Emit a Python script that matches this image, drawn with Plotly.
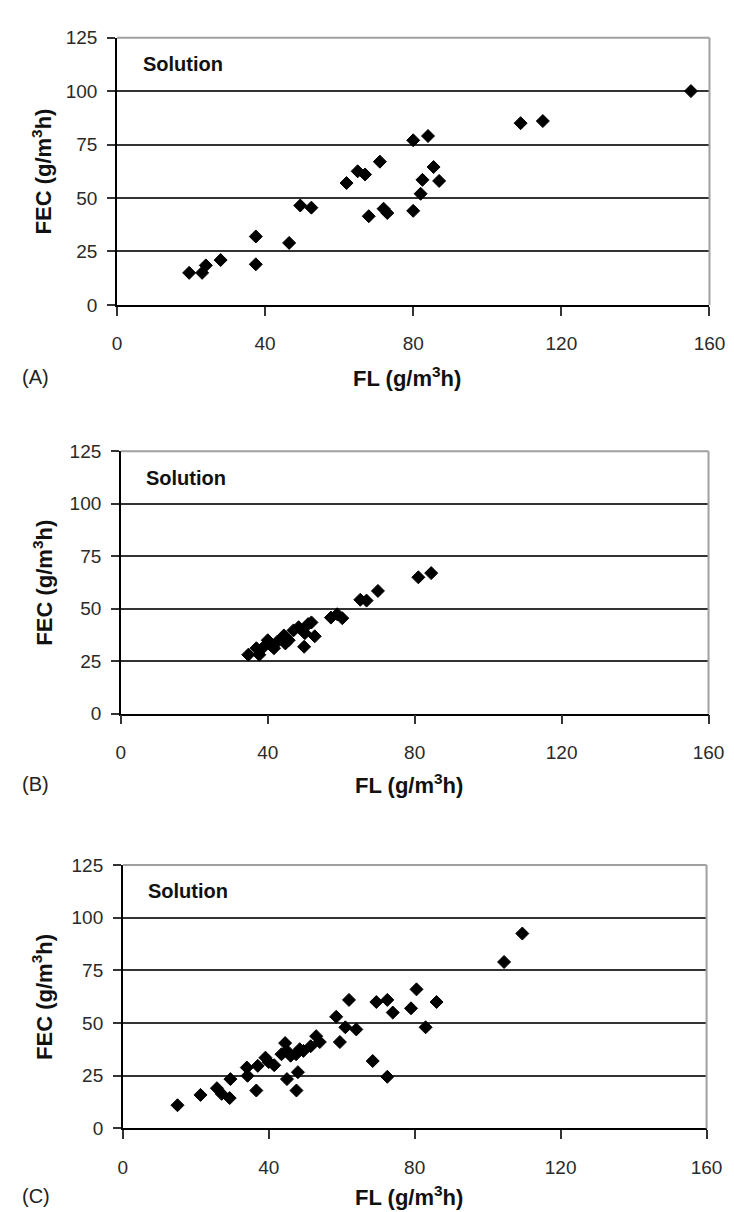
import plotly.graph_objects as go

# ---------------- data ----------------
fl_a = [19.5, 23, 24, 28, 37.5, 37.5, 46.5, 49.5, 52.5, 62, 65, 67, 68, 71, 72, 73,
        80, 80, 82, 82.5, 84, 85.5, 87, 109, 115, 155]
fec_a = [15, 15, 18.5, 21, 32, 19, 29, 46.5, 45.5, 57, 62.5, 61, 41.5, 67, 45, 43,
         77, 44, 52, 58.5, 79, 64.5, 58, 85, 86, 100]

fl_b = [34.7, 36.9, 37.7, 39, 40, 40.8, 41.7, 42.6, 44.4, 44.8, 45.7, 47, 48.4, 50.1,
        51, 51.9, 52.8, 49.9, 57.2, 58.9, 60.3, 65.2, 66.9, 70, 81, 84.5]
fec_b = [28.1, 31.2, 28.1, 32, 35, 32.7, 31.2, 34.3, 37.3, 33.5, 35, 39.7, 41.2, 38.4,
         42.7, 43.5, 36.9, 31.9, 45.8, 47.4, 45.5, 54.3, 53.9, 58.5, 65, 67]

fl_c = [15, 21.3, 25.8, 27.1, 29.3, 29.5, 34.2, 34, 36.6, 37, 39.1, 40, 41.5, 43.5,
        44.5, 45, 46, 47.5, 48.5, 49.5, 51.5, 53, 54, 45, 47.6, 48, 58.5, 59.5, 61, 62,
        64, 68.5, 72.5, 69.5, 72.5, 74, 79, 80.5, 83, 86, 104.5, 109.5]
fec_c = [11, 15.9, 19.1, 16.4, 14.4, 23.4, 25, 28.9, 18, 29.7, 33.6, 31.5, 30, 35.2,
         40.5, 36.8, 34.5, 35.2, 37.6, 36.8, 39, 43.8, 41, 23.4, 18, 26.7, 53, 41, 48, 61,
         47, 32, 24.5, 60, 61, 55, 57, 66, 48, 60, 79, 92.5]

panel_labels = ["(A)", "(B)", "(C)"]
inset_text = "Solution"
x_ticks = [0, 40, 80, 120, 160]
y_ticks = [0, 25, 50, 75, 100, 125]
x_title = "<b>FL (g/m<sup>3</sup>h)</b>"
y_title = "<b>FEC (g/m<sup>3</sup>h)</b>"

series = [(fl_a, fec_a), (fl_b, fec_b), (fl_c, fec_c)]

# ---------------- layout geometry (pixels) ----------------
W, H = 734, 1212
panels_px = [  # left, right, top, bottom, title offset below axis
    (107, 717, 20, 292, 73),
    (111, 716, 441, 708, 72),
    (113, 714, 862, 1130, 69),
]

FONT = "Liberation Sans, Arial, sans-serif"
TICK_FONT = dict(size=19, family=FONT, color="#2a2a2a")

fig = go.Figure()
layout = dict(
    width=W, height=H,
    margin=dict(l=0, r=0, t=0, b=0),
    paper_bgcolor="white", plot_bgcolor="white",
    showlegend=False,
    font=dict(family=FONT, color="#222222"),
)
annotations = []
shapes = []

for i, ((xs, ys), (l, r, t, b, toff)) in enumerate(zip(series, panels_px)):
    n = "" if i == 0 else str(i + 1)
    xa, ya = "x" + n, "y" + n
    fig.add_trace(go.Scatter(
        x=xs, y=ys, mode="markers", xaxis=xa, yaxis=ya,
        marker=dict(symbol="diamond", size=10, color="black",
                    line=dict(color="black", width=1)),
        hoverinfo="skip",
    ))
    xd = [l / W, r / W]
    yd = [1 - b / H, 1 - t / H]
    layout["xaxis" + n] = dict(
        domain=xd, anchor=ya, range=[0, 160], tickvals=x_ticks,
        showgrid=False, zeroline=False, showline=True, linecolor="black",
        linewidth=1.5, ticks="outside", ticklen=9, tickcolor="#333333", tickwidth=1.5,
        ticklabelstandoff=12, tickfont=TICK_FONT, fixedrange=True,
    )
    layout["yaxis" + n] = dict(
        domain=yd, anchor=xa, range=[0, 125], tickvals=y_ticks,
        showgrid=True, gridcolor="#333333", gridwidth=1.5, zeroline=False,
        showline=True, linecolor="black", linewidth=1.5, ticks="outside",
        ticklen=8, tickcolor="#333333", tickwidth=1.5,
        ticklabelstandoff=6, tickfont=TICK_FONT, fixedrange=True,
    )
    # grey top and right border of the plot area
    shapes.append(dict(type="line", xref=xa + " domain", yref=ya + " domain",
                       x0=0, x1=1, y0=1, y1=1, layer="above",
                       line=dict(color="#a0a0a0", width=2)))
    shapes.append(dict(type="line", xref=xa + " domain", yref=ya + " domain",
                       x0=1, x1=1, y0=0, y1=1, layer="above",
                       line=dict(color="#a0a0a0", width=2)))
    # "Solution" inset label
    annotations.append(dict(text="<b>" + inset_text + "</b>", xref=xa + " domain",
                            yref=ya + " domain", x=0.04, y=0.90, xanchor="left",
                            yanchor="middle", showarrow=False,
                            font=dict(size=20, family=FONT, color="#111111")))
    # x title
    annotations.append(dict(text=x_title, xref="paper", yref="paper",
                            x=(l + r) / 2 / W - 6 / W, y=1 - (b + toff) / H,
                            xanchor="center", yanchor="middle", showarrow=False,
                            font=dict(size=22, family=FONT, color="#111111")))
    # y title
    annotations.append(dict(text=y_title, xref="paper", yref="paper",
                            x=30 / W, y=1 - (t + b) / 2 / H, xanchor="center",
                            yanchor="middle", textangle=-90, showarrow=False,
                            font=dict(size=22, family=FONT, color="#111111")))
    # panel label
    annotations.append(dict(text=panel_labels[i], xref="paper", yref="paper",
                            x=7 / W, y=1 - (b + toff) / H, xanchor="left",
                            yanchor="middle", showarrow=False,
                            font=dict(size=20, family=FONT, color="#222222")))

layout["annotations"] = annotations
layout["shapes"] = shapes
fig.update_layout(**layout)
fig.write_html("out.html")
